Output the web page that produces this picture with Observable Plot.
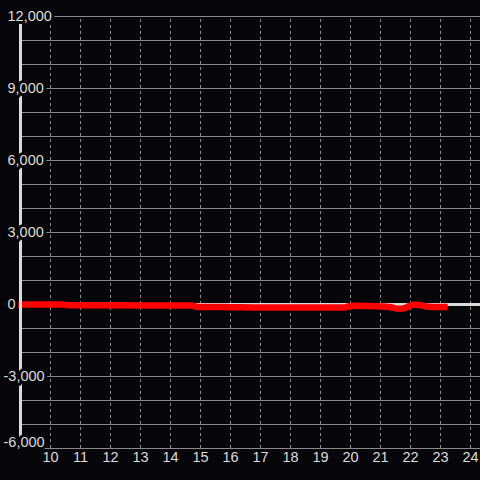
<!DOCTYPE html>
<html>
<head>
<meta charset="utf-8">
<script src="https://cdn.jsdelivr.net/npm/d3@7"></script>
<script src="https://cdn.jsdelivr.net/npm/@observablehq/plot@0.6"></script>
<style>
  html, body { margin: 0; padding: 0; background: #060509; }
  #chart svg text { font-family: "Liberation Sans", Arial, sans-serif; font-size: 14.5px; }
</style>
</head>
<body>
<div id="chart"></div>
<script>
// Data
const hours  = [8.9, 10, 10.4, 10.6, 11, 12, 13, 14, 14.7, 14.9, 15, 16, 17, 18, 19, 19.8, 20, 20.3, 21, 21.3, 21.6, 21.8, 22.1, 22.3, 22.6, 23, 23.24];
const values = [0, 0, 0, -30, -30, -30, -40, -40, -40, -100, -100, -110, -125, -125, -125, -120, -60, -50, -80, -100, -180, -150, -10, -20, -90, -100, -100];

const xTicks = [10, 11, 12, 13, 14, 15, 16, 17, 18, 19, 20, 21, 22, 23, 24];
const yTicks = [-6000, -3000, 0, 3000, 6000, 9000, 12000];
const yTickLabels = ["-6,000", "-3,000", "0", "3,000", "6,000", "9,000", "12,000"];
const yGrid = [-6000, -5000, -4000, -3000, -2000, -1000, 0, 1000, 2000, 3000, 4000, 5000, 6000, 7000, 8000, 9000, 10000, 11000, 12000];

const series = hours.map((h, i) => ({hour: h, value: values[i]}));
const yLab = yTicks.map((v, i) => ({value: v, label: yTickLabels[i]}));

const bg = "#060509";
const txt = "#dcdcdc";
const fs = 14.5;

const chart = Plot.plot({
  width: 480,
  height: 480,
  marginLeft: 20,
  marginRight: 0,
  marginTop: 16,
  marginBottom: 32,
  style: {background: bg, color: txt, fontFamily: "Liberation Sans, Arial, sans-serif", fontSize: "14.5px"},
  x: {domain: [9, 24.3333], axis: null},
  y: {domain: [-6000, 12000], axis: null},
  marks: [
    Plot.ruleY(yGrid, {stroke: "#8a8a8a", strokeWidth: 1}),
    Plot.ruleX(xTicks, {y1: -6000, y2: 12000, stroke: "#8a8a8a", strokeWidth: 1, strokeDasharray: "3,3"}),
    Plot.ruleY([0], {stroke: "#dcdcdc", strokeWidth: 3}),
    Plot.line(series, {x: "hour", y: "value", stroke: "#ff0000", strokeWidth: 6.5, strokeLinecap: "butt", strokeLinejoin: "round", curve: "monotone-x"}),
    Plot.ruleX([9], {y1: -6000, y2: 12000, stroke: "#dcdcdc", strokeWidth: 3}),
    Plot.text(yLab.filter(d => d.value >= 0), {x: () => 9, y: "value", text: "label", textAnchor: "start", dx: -13, fill: txt, stroke: bg, strokeWidth: 6, fontSize: fs}),
    Plot.text(yLab.filter(d => d.value < 0 && d.value > -6000), {x: () => 9, y: "value", text: "label", textAnchor: "start", dx: -17, fill: txt, stroke: bg, strokeWidth: 6, fontSize: fs}),
    Plot.text(yLab.filter(d => d.value === -6000), {x: () => 9, y: "value", text: "label", textAnchor: "start", dx: -17, dy: -6, fill: txt, stroke: bg, strokeWidth: 6, fontSize: fs}),
    Plot.text(xTicks, {x: d => d, frameAnchor: "bottom", text: d => String(d), dy: 13, fill: txt, fontSize: fs})
  ]
});
document.getElementById("chart").append(chart);
</script>
</body>
</html>
